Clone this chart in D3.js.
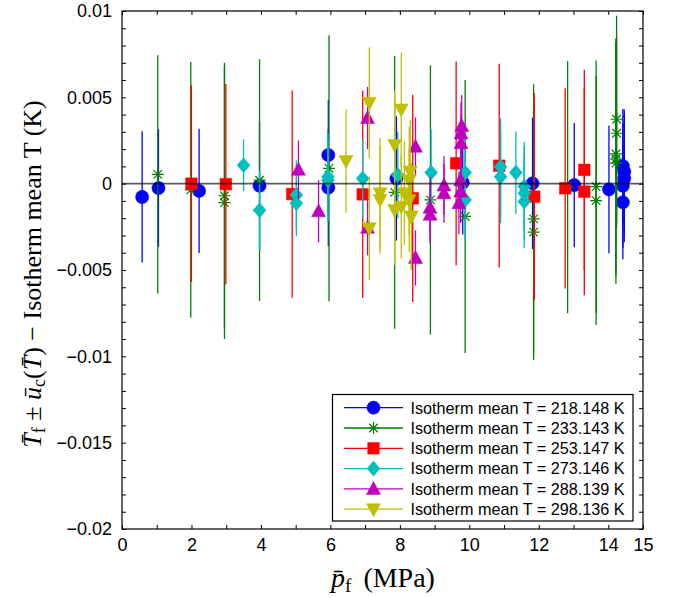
<!DOCTYPE html>
<html><head><meta charset="utf-8">
<script src="https://cdn.jsdelivr.net/npm/d3@7"></script>
<style>body{margin:0;background:#fff}svg{display:block}</style>
</head><body>
<svg id="c" width="681" height="598"></svg>
<script>
// ---- data ----
const seriesNames = ["Isotherm mean T = 218.148 K","Isotherm mean T = 233.143 K","Isotherm mean T = 253.147 K","Isotherm mean T = 273.146 K","Isotherm mean T = 288.139 K","Isotherm mean T = 298.136 K"];
const blueP = [0.58,1.05,2.22,3.96,5.94,5.94,7.9,9.81,11.82,13.02,14.02,14.42,14.46,14.46,14.42,14.42];
const blueV = [-0.00077,-0.00025,-0.00042,-0.00012,0.00166,-0.00023,0.0003,0.00006,0.00002,-0.00008,-0.00033,0.00102,0.0007,0.0003,-0.00012,-0.00108];
const blueE = [0.0038,0.0034,0.0036,0.0037,0.0032,0.0034,0.0036,0.003,0.0038,0.0036,0.0037,0.0033,0.0036,0.0037,0.0036,0.0033];
const greenP = [1.03,1.98,2.95,2.95,3.96,5.96,7.85,8.88,9.88,11.85,11.85,12.83,13.65,13.65,14.24,14.24,14.22,14.22,14.22];
const greenV = [0.00054,-0.00036,-0.0007,-0.0011,0.0002,0.00089,-0.0005,-0.00094,-0.0019,-0.00204,-0.00281,-0.0002,-0.00017,-0.00098,0.00373,0.00292,0.00172,0.00143,0.00119];
const greenE = [0.0069,0.0074,0.0077,0.0079,0.007,0.0077,0.0079,0.0078,0.0079,0.0078,0.0074,0.0073,0.0073,0.0072,0.006,0.0055,0.0067,0.0068,0.007];
const redP = [2.0,2.99,4.9,6.93,8.37,9.62,10.86,11.87,12.76,13.31,13.31];
const redV = [0.0,-0.00003,-0.0006,-0.00062,-0.00085,0.00118,0.00104,-0.00075,-0.00027,0.0008,-0.00046];
const redE = [0.0057,0.0058,0.006,0.006,0.006,0.0059,0.0059,0.006,0.0058,0.0058,0.006];
const cyanP = [3.5,3.96,5.02,5.02,5.93,5.93,6.93,7.94,8.9,9.88,9.88,10.9,10.9,11.34,11.58,11.58,11.58];
const cyanV = [0.00107,-0.00154,-0.00065,-0.00113,0.0004,0.0002,0.0003,0.0005,0.00064,0.00064,-0.00094,0.00098,0.0004,0.00064,-0.00017,-0.00056,-0.00104];
const cyanE = [0.0015,0.0023,0.002,0.0019,0.0025,0.0024,0.0023,0.0025,0.0025,0.0025,0.0024,0.0028,0.0027,0.0024,0.0026,0.0027,0.0027];
const magentaP = [5.08,5.66,7.07,7.07,8.45,8.45,8.87,8.87,9.27,9.27,9.7,9.75,9.75,9.76,9.76,9.78];
const magentaV = [0.0008,-0.0016,0.0038,-0.00255,0.00214,-0.0043,-0.0014,-0.0018,-0.0001,-0.00056,-0.00113,-0.00046,0.0002,0.00234,0.0029,0.00334];
const magentaE = [0.0017,0.0018,0.0018,0.0016,0.0017,0.0016,0.0018,0.0017,0.0017,0.0017,0.0018,0.0018,0.0017,0.0017,0.0018,0.0018];
const yellowP = [6.45,7.12,7.12,7.43,7.43,7.85,7.85,8.04,8.04,8.13,8.3,8.27,8.27,8.33];
const yellowV = [0.00131,0.00469,-0.00258,-0.00056,-0.00094,0.00224,-0.00152,0.0043,-0.00133,-0.00056,0.0007,0.0002,-0.00094,-0.0019];
const yellowE = [0.003,0.0032,0.003,0.0032,0.0031,0.0032,0.0032,0.0033,0.003,0.003,0.003,0.0031,0.003,0.0031];
const xTickValues = [0,1,2,3,4,5,6,7,8,9,10,11,12,13,14,15];
const xTickLabels = ["0","","2","","4","","6","","8","","10","","12","","14","15"];
const yTickValues = d3.range(-20, 11).map(d => d / 1000);
const yLabelValues = [-0.02,-0.015,-0.01,-0.005,0,0.005,0.01];
const yLabelTexts = ["\u22120.02","\u22120.015","\u22120.01","\u22120.005","0","0.005","0.01"];

// ---- setup ----
const colors = ["#0000ff","#008000","#ff0000","#00bfbf","#bf00bf","#bfbf00"];
const markers = ["circle","star","square","diamond","up","down"];
const series = [
  {P:blueP,V:blueV,E:blueE},{P:greenP,V:greenV,E:greenE},{P:redP,V:redV,E:redE},
  {P:cyanP,V:cyanV,E:cyanE},{P:magentaP,V:magentaV,E:magentaE},{P:yellowP,V:yellowV,E:yellowE}
];
const L=122,R=643,T=11,B=529;
const x = d3.scaleLinear().domain([0,15]).range([L,R]);
const y = d3.scaleLinear().domain([-0.02,0.01]).range([B,T]);
const svg = d3.select("#c");

function markerPath(type){
  const p = d3.path();
  if(type==="circle"){ p.arc(0,0,6.6,0,2*Math.PI); }
  else if(type==="square"){ p.rect(-5.8,-5.8,11.6,11.6); }
  else if(type==="diamond"){ p.moveTo(0,-7.5);p.lineTo(6.5,0);p.lineTo(0,7.5);p.lineTo(-6.5,0);p.closePath(); }
  else if(type==="up"){ p.moveTo(0,-7.5);p.lineTo(7,5.5);p.lineTo(-7,5.5);p.closePath(); }
  else if(type==="down"){ p.moveTo(0,7.5);p.lineTo(7,-5.5);p.lineTo(-7,-5.5);p.closePath(); }
  else if(type==="star"){ const r=6,d=r*0.707; p.moveTo(-r,0);p.lineTo(r,0);p.moveTo(0,-r);p.lineTo(0,r);p.moveTo(-d,-d);p.lineTo(d,d);p.moveTo(-d,d);p.lineTo(d,-d); }
  return p.toString();
}
function drawMarker(g,type,color){
  if(type==="star") g.append("path").attr("d",markerPath(type)).attr("fill","none").attr("stroke",color).attr("stroke-width",1.2);
  else g.append("path").attr("d",markerPath(type)).attr("fill",color).attr("stroke",color).attr("stroke-width",0.5);
}

svg.append("defs").append("clipPath").attr("id","clip").append("rect").attr("x",L).attr("y",T).attr("width",R-L).attr("height",B-T);
const plot = svg.append("g").attr("clip-path","url(#clip)");

series.forEach((s,i)=>{
  const g = plot.append("g");
  const data = s.P.map((p,j)=>({p, v:s.V[j], e:s.E[j]}));
  g.selectAll("line.eb").data(data).enter().append("line")
    .attr("x1",d=>x(d.p)).attr("x2",d=>x(d.p))
    .attr("y1",d=>y(d.v-d.e)).attr("y2",d=>y(d.v+d.e))
    .attr("stroke",colors[i]).attr("stroke-width",1.3);
  data.forEach(d=>{
    const m = g.append("g").attr("transform",`translate(${x(d.p)},${y(d.v)})`);
    drawMarker(m,markers[i],colors[i]);
  });
});
// zero line
plot.append("line").attr("x1",L).attr("x2",R).attr("y1",y(0)).attr("y2",y(0))
  .attr("stroke","#000").attr("stroke-opacity",0.65).attr("stroke-width",1.7);

// axes
const fontAx = "'Liberation Sans', Arial, sans-serif";
const xb = svg.append("g").attr("transform",`translate(0,${B})`)
  .call(d3.axisBottom(x).tickValues(xTickValues).tickSizeInner(-4).tickSizeOuter(0).tickPadding(9).tickFormat((d,i)=>xTickLabels[i]));
const xt = svg.append("g").attr("transform",`translate(0,${T})`)
  .call(d3.axisTop(x).tickValues(xTickValues).tickSizeInner(-4).tickSizeOuter(0).tickFormat(""));
const yl = svg.append("g").attr("transform",`translate(${L},0)`)
  .call(d3.axisLeft(y).tickValues(yTickValues).tickSizeInner(-4).tickSizeOuter(0).tickPadding(10)
    .tickFormat(d=>{const k=yLabelValues.findIndex(v=>Math.abs(v-d)<1e-9);return k>=0?yLabelTexts[k]:"";}));
const yr = svg.append("g").attr("transform",`translate(${R},0)`)
  .call(d3.axisRight(y).tickValues(yTickValues).tickSizeInner(-4).tickSizeOuter(0).tickFormat(""));
[xb,xt,yl,yr].forEach(a=>{
  a.selectAll("path.domain").remove();
  a.selectAll("line").attr("stroke","#000").attr("stroke-width",1);
  a.selectAll("text").attr("font-family",fontAx).attr("font-size",18).attr("fill","#000");
});
svg.append("rect").attr("x",L).attr("y",T).attr("width",R-L).attr("height",B-T)
  .attr("fill","none").attr("stroke","#000").attr("stroke-width",1.2);

// axis titles
const serif = "'Liberation Serif','DejaVu Serif',serif";
const xl = svg.append("text").attr("x",383).attr("y",587).attr("text-anchor","middle")
  .attr("font-family",serif).attr("font-size",28);
xl.append("tspan").attr("font-style","italic").text("p\u0304");
xl.append("tspan").attr("font-size",19).attr("dy",5).text("f");
xl.append("tspan").attr("dy",-5).attr("dx",12).text("(MPa)");

const ylab = svg.append("text").attr("transform","translate(41,274) rotate(-90)").attr("text-anchor","middle")
  .attr("font-family",serif).attr("font-size",26);
ylab.append("tspan").attr("font-style","italic").text("T\u0304");
ylab.append("tspan").attr("font-size",18).attr("dy",4).text("f");
ylab.append("tspan").attr("dy",-4).text(" \u00b1 ");
ylab.append("tspan").attr("font-style","italic").text("\u016b");
ylab.append("tspan").attr("font-size",18).attr("dy",4).text("c");
ylab.append("tspan").attr("dy",-4).text("(");
ylab.append("tspan").attr("font-style","italic").text("T\u0304");
ylab.append("tspan").text(")  \u2212  Isotherm mean T (K)");

// legend
const lg = svg.append("g");
lg.append("rect").attr("x",332.5).attr("y",394.5).attr("width",300.5).attr("height",126.5)
  .attr("fill","#fff").attr("stroke","#000").attr("stroke-width",1.2);
seriesNames.forEach((name,i)=>{
  const cy = 407.7 + i*20.3;
  lg.append("line").attr("x1",344).attr("x2",403).attr("y1",cy).attr("y2",cy).attr("stroke",colors[i]).attr("stroke-width",1.3);
  drawMarker(lg.append("g").attr("transform",`translate(373.5,${cy})`),markers[i],colors[i]);
  lg.append("text").attr("x",410.5).attr("y",cy+5.8).attr("font-family",fontAx).attr("font-size",16.2).attr("fill","#000").text(name);
});
</script>
</body></html>
